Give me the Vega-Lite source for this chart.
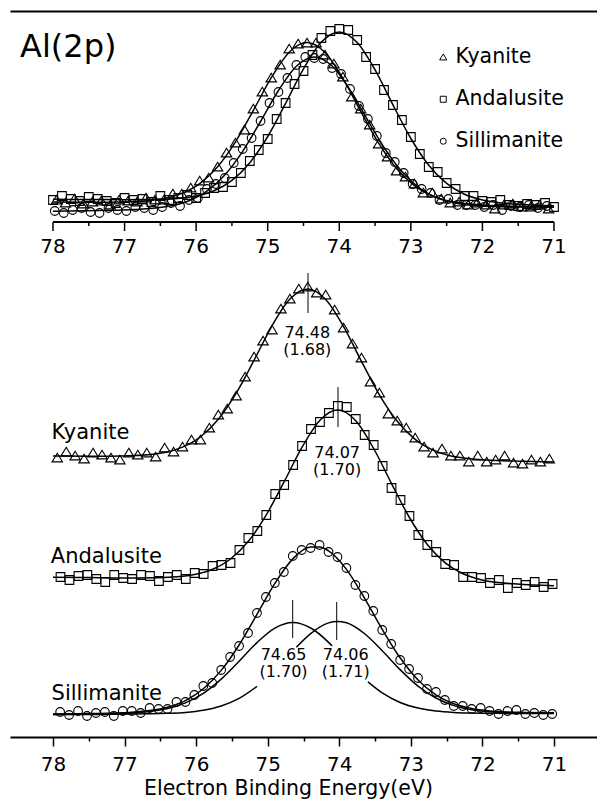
{
"$schema": "https://vega.github.io/schema/vega-lite/v6.json",
"width": 587, "height": 726,
"autosize": {"type": "none"},
"padding": {"left": 10, "top": 11, "right": 0, "bottom": 62},
"background": "white",
"config": {"view": {"stroke": null}, "font": "DejaVu Sans"},
"datasets": {
"pts": [
{"mineral":"Kyanite","E":77.95,"I":537},{"mineral":"Kyanite","E":77.825,"I":534},{"mineral":"Kyanite","E":77.7,"I":538},{"mineral":"Kyanite","E":77.575,"I":533},{"mineral":"Kyanite","E":77.45,"I":535},{"mineral":"Kyanite","E":77.325,"I":536},{"mineral":"Kyanite","E":77.2,"I":532},{"mineral":"Kyanite","E":77.075,"I":537},{"mineral":"Kyanite","E":76.95,"I":536},{"mineral":"Kyanite","E":76.825,"I":535},{"mineral":"Kyanite","E":76.7,"I":539},{"mineral":"Kyanite","E":76.575,"I":537},{"mineral":"Kyanite","E":76.45,"I":537},{"mineral":"Kyanite","E":76.325,"I":543},{"mineral":"Kyanite","E":76.2,"I":543},{"mineral":"Kyanite","E":76.075,"I":549},{"mineral":"Kyanite","E":75.95,"I":556},{"mineral":"Kyanite","E":75.825,"I":559},{"mineral":"Kyanite","E":75.7,"I":570},{"mineral":"Kyanite","E":75.575,"I":584},{"mineral":"Kyanite","E":75.45,"I":594},{"mineral":"Kyanite","E":75.325,"I":607},{"mineral":"Kyanite","E":75.2,"I":628},{"mineral":"Kyanite","E":75.075,"I":645},{"mineral":"Kyanite","E":74.95,"I":659},{"mineral":"Kyanite","E":74.825,"I":672},{"mineral":"Kyanite","E":74.7,"I":688},{"mineral":"Kyanite","E":74.575,"I":693},{"mineral":"Kyanite","E":74.45,"I":694},{"mineral":"Kyanite","E":74.325,"I":694},{"mineral":"Kyanite","E":74.2,"I":682},{"mineral":"Kyanite","E":74.075,"I":673},{"mineral":"Kyanite","E":73.95,"I":660},{"mineral":"Kyanite","E":73.825,"I":640},{"mineral":"Kyanite","E":73.7,"I":628},{"mineral":"Kyanite","E":73.575,"I":612},{"mineral":"Kyanite","E":73.45,"I":593},{"mineral":"Kyanite","E":73.325,"I":580},{"mineral":"Kyanite","E":73.2,"I":566},{"mineral":"Kyanite","E":73.075,"I":560},{"mineral":"Kyanite","E":72.95,"I":553},{"mineral":"Kyanite","E":72.825,"I":544},{"mineral":"Kyanite","E":72.7,"I":544},{"mineral":"Kyanite","E":72.575,"I":538},{"mineral":"Kyanite","E":72.45,"I":534},{"mineral":"Kyanite","E":72.325,"I":535},{"mineral":"Kyanite","E":72.2,"I":532},{"mineral":"Kyanite","E":72.075,"I":534},{"mineral":"Kyanite","E":71.95,"I":532},{"mineral":"Kyanite","E":71.825,"I":528},{"mineral":"Kyanite","E":71.7,"I":532},{"mineral":"Kyanite","E":71.575,"I":533},{"mineral":"Kyanite","E":71.45,"I":530},{"mineral":"Kyanite","E":71.325,"I":530},{"mineral":"Kyanite","E":71.2,"I":532},{"mineral":"Kyanite","E":71.075,"I":528},
{"mineral":"Andalusite","E":78,"I":537},{"mineral":"Andalusite","E":77.875,"I":541},{"mineral":"Andalusite","E":77.75,"I":538},{"mineral":"Andalusite","E":77.625,"I":536},{"mineral":"Andalusite","E":77.5,"I":540},{"mineral":"Andalusite","E":77.375,"I":538},{"mineral":"Andalusite","E":77.25,"I":536},{"mineral":"Andalusite","E":77.125,"I":534},{"mineral":"Andalusite","E":77,"I":539},{"mineral":"Andalusite","E":76.875,"I":537},{"mineral":"Andalusite","E":76.75,"I":538},{"mineral":"Andalusite","E":76.625,"I":535},{"mineral":"Andalusite","E":76.5,"I":541},{"mineral":"Andalusite","E":76.375,"I":537},{"mineral":"Andalusite","E":76.25,"I":539},{"mineral":"Andalusite","E":76.125,"I":542},{"mineral":"Andalusite","E":76,"I":539},{"mineral":"Andalusite","E":75.875,"I":544},{"mineral":"Andalusite","E":75.75,"I":549},{"mineral":"Andalusite","E":75.625,"I":550},{"mineral":"Andalusite","E":75.5,"I":555},{"mineral":"Andalusite","E":75.375,"I":564},{"mineral":"Andalusite","E":75.25,"I":576},{"mineral":"Andalusite","E":75.125,"I":587},{"mineral":"Andalusite","E":75,"I":598},{"mineral":"Andalusite","E":74.875,"I":618},{"mineral":"Andalusite","E":74.75,"I":634},{"mineral":"Andalusite","E":74.625,"I":653},{"mineral":"Andalusite","E":74.5,"I":666},{"mineral":"Andalusite","E":74.375,"I":682},{"mineral":"Andalusite","E":74.25,"I":699},{"mineral":"Andalusite","E":74.125,"I":706},{"mineral":"Andalusite","E":74,"I":708},{"mineral":"Andalusite","E":73.875,"I":707},{"mineral":"Andalusite","E":73.75,"I":697},{"mineral":"Andalusite","E":73.625,"I":680},{"mineral":"Andalusite","E":73.5,"I":668},{"mineral":"Andalusite","E":73.375,"I":647},{"mineral":"Andalusite","E":73.25,"I":632},{"mineral":"Andalusite","E":73.125,"I":617},{"mineral":"Andalusite","E":73,"I":600},{"mineral":"Andalusite","E":72.875,"I":583},{"mineral":"Andalusite","E":72.75,"I":570},{"mineral":"Andalusite","E":72.625,"I":565},{"mineral":"Andalusite","E":72.5,"I":554},{"mineral":"Andalusite","E":72.375,"I":548},{"mineral":"Andalusite","E":72.25,"I":541},{"mineral":"Andalusite","E":72.125,"I":541},{"mineral":"Andalusite","E":72,"I":536},{"mineral":"Andalusite","E":71.875,"I":535},{"mineral":"Andalusite","E":71.75,"I":537},{"mineral":"Andalusite","E":71.625,"I":532},{"mineral":"Andalusite","E":71.5,"I":531},{"mineral":"Andalusite","E":71.375,"I":533},{"mineral":"Andalusite","E":71.25,"I":532},{"mineral":"Andalusite","E":71.125,"I":534},{"mineral":"Andalusite","E":71,"I":530},
{"mineral":"Sillimanite","E":77.975,"I":526},{"mineral":"Sillimanite","E":77.85,"I":524},{"mineral":"Sillimanite","E":77.725,"I":527},{"mineral":"Sillimanite","E":77.6,"I":529},{"mineral":"Sillimanite","E":77.475,"I":525},{"mineral":"Sillimanite","E":77.35,"I":524},{"mineral":"Sillimanite","E":77.225,"I":529},{"mineral":"Sillimanite","E":77.1,"I":527},{"mineral":"Sillimanite","E":76.975,"I":526},{"mineral":"Sillimanite","E":76.85,"I":530},{"mineral":"Sillimanite","E":76.725,"I":529},{"mineral":"Sillimanite","E":76.6,"I":527},{"mineral":"Sillimanite","E":76.475,"I":530},{"mineral":"Sillimanite","E":76.35,"I":534},{"mineral":"Sillimanite","E":76.225,"I":531},{"mineral":"Sillimanite","E":76.1,"I":537},{"mineral":"Sillimanite","E":75.975,"I":539},{"mineral":"Sillimanite","E":75.85,"I":548},{"mineral":"Sillimanite","E":75.725,"I":553},{"mineral":"Sillimanite","E":75.6,"I":559},{"mineral":"Sillimanite","E":75.475,"I":574},{"mineral":"Sillimanite","E":75.35,"I":588},{"mineral":"Sillimanite","E":75.225,"I":599},{"mineral":"Sillimanite","E":75.1,"I":616},{"mineral":"Sillimanite","E":74.975,"I":634},{"mineral":"Sillimanite","E":74.85,"I":645},{"mineral":"Sillimanite","E":74.725,"I":659},{"mineral":"Sillimanite","E":74.6,"I":672},{"mineral":"Sillimanite","E":74.475,"I":680},{"mineral":"Sillimanite","E":74.35,"I":679},{"mineral":"Sillimanite","E":74.225,"I":678},{"mineral":"Sillimanite","E":74.1,"I":669},{"mineral":"Sillimanite","E":73.975,"I":663},{"mineral":"Sillimanite","E":73.85,"I":648},{"mineral":"Sillimanite","E":73.725,"I":631},{"mineral":"Sillimanite","E":73.6,"I":618},{"mineral":"Sillimanite","E":73.475,"I":601},{"mineral":"Sillimanite","E":73.35,"I":584},{"mineral":"Sillimanite","E":73.225,"I":575},{"mineral":"Sillimanite","E":73.1,"I":564},{"mineral":"Sillimanite","E":72.975,"I":553},{"mineral":"Sillimanite","E":72.85,"I":548},{"mineral":"Sillimanite","E":72.725,"I":544},{"mineral":"Sillimanite","E":72.6,"I":537},{"mineral":"Sillimanite","E":72.475,"I":538},{"mineral":"Sillimanite","E":72.35,"I":532},{"mineral":"Sillimanite","E":72.225,"I":532},{"mineral":"Sillimanite","E":72.1,"I":532},{"mineral":"Sillimanite","E":71.975,"I":530},{"mineral":"Sillimanite","E":71.85,"I":532},{"mineral":"Sillimanite","E":71.725,"I":527},{"mineral":"Sillimanite","E":71.6,"I":531},{"mineral":"Sillimanite","E":71.475,"I":530},{"mineral":"Sillimanite","E":71.35,"I":532},{"mineral":"Sillimanite","E":71.225,"I":529},{"mineral":"Sillimanite","E":71.1,"I":531},
{"mineral":"Kyanite","E":77.94,"I":279},{"mineral":"Kyanite","E":77.815,"I":285},{"mineral":"Kyanite","E":77.69,"I":281},{"mineral":"Kyanite","E":77.565,"I":278},{"mineral":"Kyanite","E":77.44,"I":284},{"mineral":"Kyanite","E":77.315,"I":282},{"mineral":"Kyanite","E":77.19,"I":279},{"mineral":"Kyanite","E":77.065,"I":277},{"mineral":"Kyanite","E":76.94,"I":284},{"mineral":"Kyanite","E":76.815,"I":282},{"mineral":"Kyanite","E":76.69,"I":284},{"mineral":"Kyanite","E":76.565,"I":280},{"mineral":"Kyanite","E":76.44,"I":289},{"mineral":"Kyanite","E":76.315,"I":285},{"mineral":"Kyanite","E":76.19,"I":290},{"mineral":"Kyanite","E":76.065,"I":297},{"mineral":"Kyanite","E":75.94,"I":297},{"mineral":"Kyanite","E":75.815,"I":309},{"mineral":"Kyanite","E":75.69,"I":322},{"mineral":"Kyanite","E":75.565,"I":328},{"mineral":"Kyanite","E":75.44,"I":341},{"mineral":"Kyanite","E":75.315,"I":360},{"mineral":"Kyanite","E":75.19,"I":380},{"mineral":"Kyanite","E":75.065,"I":396},{"mineral":"Kyanite","E":74.94,"I":407},{"mineral":"Kyanite","E":74.815,"I":428},{"mineral":"Kyanite","E":74.69,"I":438},{"mineral":"Kyanite","E":74.565,"I":448},{"mineral":"Kyanite","E":74.44,"I":450},{"mineral":"Kyanite","E":74.315,"I":444},{"mineral":"Kyanite","E":74.19,"I":442},{"mineral":"Kyanite","E":74.065,"I":427},{"mineral":"Kyanite","E":73.94,"I":409},{"mineral":"Kyanite","E":73.815,"I":393},{"mineral":"Kyanite","E":73.69,"I":379},{"mineral":"Kyanite","E":73.565,"I":355},{"mineral":"Kyanite","E":73.44,"I":344},{"mineral":"Kyanite","E":73.315,"I":323},{"mineral":"Kyanite","E":73.19,"I":316},{"mineral":"Kyanite","E":73.065,"I":309},{"mineral":"Kyanite","E":72.94,"I":299},{"mineral":"Kyanite","E":72.815,"I":290},{"mineral":"Kyanite","E":72.69,"I":284},{"mineral":"Kyanite","E":72.565,"I":288},{"mineral":"Kyanite","E":72.44,"I":281},{"mineral":"Kyanite","E":72.315,"I":281},{"mineral":"Kyanite","E":72.19,"I":275},{"mineral":"Kyanite","E":72.065,"I":281},{"mineral":"Kyanite","E":71.94,"I":275},{"mineral":"Kyanite","E":71.815,"I":277},{"mineral":"Kyanite","E":71.69,"I":281},{"mineral":"Kyanite","E":71.565,"I":274},{"mineral":"Kyanite","E":71.44,"I":273},{"mineral":"Kyanite","E":71.315,"I":277},{"mineral":"Kyanite","E":71.19,"I":275},{"mineral":"Kyanite","E":71.065,"I":278},
{"mineral":"Andalusite","E":77.895,"I":160},{"mineral":"Andalusite","E":77.77,"I":157},{"mineral":"Andalusite","E":77.645,"I":161},{"mineral":"Andalusite","E":77.52,"I":162},{"mineral":"Andalusite","E":77.395,"I":158},{"mineral":"Andalusite","E":77.27,"I":155},{"mineral":"Andalusite","E":77.145,"I":162},{"mineral":"Andalusite","E":77.02,"I":159},{"mineral":"Andalusite","E":76.895,"I":158},{"mineral":"Andalusite","E":76.77,"I":162},{"mineral":"Andalusite","E":76.645,"I":161},{"mineral":"Andalusite","E":76.52,"I":156},{"mineral":"Andalusite","E":76.395,"I":160},{"mineral":"Andalusite","E":76.27,"I":162},{"mineral":"Andalusite","E":76.145,"I":158},{"mineral":"Andalusite","E":76.02,"I":164},{"mineral":"Andalusite","E":75.895,"I":163},{"mineral":"Andalusite","E":75.77,"I":171},{"mineral":"Andalusite","E":75.645,"I":172},{"mineral":"Andalusite","E":75.52,"I":174},{"mineral":"Andalusite","E":75.395,"I":187},{"mineral":"Andalusite","E":75.27,"I":199},{"mineral":"Andalusite","E":75.145,"I":206},{"mineral":"Andalusite","E":75.02,"I":222},{"mineral":"Andalusite","E":74.895,"I":243},{"mineral":"Andalusite","E":74.77,"I":252},{"mineral":"Andalusite","E":74.645,"I":272},{"mineral":"Andalusite","E":74.52,"I":291},{"mineral":"Andalusite","E":74.395,"I":308},{"mineral":"Andalusite","E":74.27,"I":315},{"mineral":"Andalusite","E":74.145,"I":324},{"mineral":"Andalusite","E":74.02,"I":331},{"mineral":"Andalusite","E":73.895,"I":330},{"mineral":"Andalusite","E":73.77,"I":318},{"mineral":"Andalusite","E":73.645,"I":302},{"mineral":"Andalusite","E":73.52,"I":292},{"mineral":"Andalusite","E":73.395,"I":271},{"mineral":"Andalusite","E":73.27,"I":249},{"mineral":"Andalusite","E":73.145,"I":237},{"mineral":"Andalusite","E":73.02,"I":221},{"mineral":"Andalusite","E":72.895,"I":202},{"mineral":"Andalusite","E":72.77,"I":192},{"mineral":"Andalusite","E":72.645,"I":185},{"mineral":"Andalusite","E":72.52,"I":173},{"mineral":"Andalusite","E":72.395,"I":172},{"mineral":"Andalusite","E":72.27,"I":160},{"mineral":"Andalusite","E":72.145,"I":160},{"mineral":"Andalusite","E":72.02,"I":159},{"mineral":"Andalusite","E":71.895,"I":154},{"mineral":"Andalusite","E":71.77,"I":157},{"mineral":"Andalusite","E":71.645,"I":149},{"mineral":"Andalusite","E":71.52,"I":154},{"mineral":"Andalusite","E":71.395,"I":152},{"mineral":"Andalusite","E":71.27,"I":155},{"mineral":"Andalusite","E":71.145,"I":150},{"mineral":"Andalusite","E":71.02,"I":153},
{"mineral":"Sillimanite","E":77.9,"I":25},{"mineral":"Sillimanite","E":77.775,"I":22},{"mineral":"Sillimanite","E":77.65,"I":26},{"mineral":"Sillimanite","E":77.525,"I":21},{"mineral":"Sillimanite","E":77.4,"I":24},{"mineral":"Sillimanite","E":77.275,"I":25},{"mineral":"Sillimanite","E":77.15,"I":21},{"mineral":"Sillimanite","E":77.025,"I":26},{"mineral":"Sillimanite","E":76.9,"I":26},{"mineral":"Sillimanite","E":76.775,"I":24},{"mineral":"Sillimanite","E":76.65,"I":29},{"mineral":"Sillimanite","E":76.525,"I":28},{"mineral":"Sillimanite","E":76.4,"I":28},{"mineral":"Sillimanite","E":76.275,"I":35},{"mineral":"Sillimanite","E":76.15,"I":35},{"mineral":"Sillimanite","E":76.025,"I":42},{"mineral":"Sillimanite","E":75.9,"I":51},{"mineral":"Sillimanite","E":75.775,"I":54},{"mineral":"Sillimanite","E":75.65,"I":67},{"mineral":"Sillimanite","E":75.525,"I":80},{"mineral":"Sillimanite","E":75.4,"I":91},{"mineral":"Sillimanite","E":75.275,"I":104},{"mineral":"Sillimanite","E":75.15,"I":124},{"mineral":"Sillimanite","E":75.025,"I":140},{"mineral":"Sillimanite","E":74.9,"I":154},{"mineral":"Sillimanite","E":74.775,"I":165},{"mineral":"Sillimanite","E":74.65,"I":181},{"mineral":"Sillimanite","E":74.525,"I":187},{"mineral":"Sillimanite","E":74.4,"I":189},{"mineral":"Sillimanite","E":74.275,"I":192},{"mineral":"Sillimanite","E":74.15,"I":185},{"mineral":"Sillimanite","E":74.025,"I":180},{"mineral":"Sillimanite","E":73.9,"I":169},{"mineral":"Sillimanite","E":73.775,"I":152},{"mineral":"Sillimanite","E":73.65,"I":141},{"mineral":"Sillimanite","E":73.525,"I":126},{"mineral":"Sillimanite","E":73.4,"I":107},{"mineral":"Sillimanite","E":73.275,"I":93},{"mineral":"Sillimanite","E":73.15,"I":77},{"mineral":"Sillimanite","E":73.025,"I":68},{"mineral":"Sillimanite","E":72.9,"I":59},{"mineral":"Sillimanite","E":72.775,"I":48},{"mineral":"Sillimanite","E":72.65,"I":45},{"mineral":"Sillimanite","E":72.525,"I":37},{"mineral":"Sillimanite","E":72.4,"I":31},{"mineral":"Sillimanite","E":72.275,"I":31},{"mineral":"Sillimanite","E":72.15,"I":28},{"mineral":"Sillimanite","E":72.025,"I":29},{"mineral":"Sillimanite","E":71.9,"I":26},{"mineral":"Sillimanite","E":71.775,"I":23},{"mineral":"Sillimanite","E":71.65,"I":26},{"mineral":"Sillimanite","E":71.525,"I":27},{"mineral":"Sillimanite","E":71.4,"I":23},{"mineral":"Sillimanite","E":71.275,"I":24},{"mineral":"Sillimanite","E":71.15,"I":22},{"mineral":"Sillimanite","E":71.025,"I":23}
],
"fits": [
{"curve":"Kyanite top","E":78,"I":535},{"curve":"Kyanite top","E":77.45,"I":534.8},{"curve":"Kyanite top","E":76.95,"I":535.3},{"curve":"Kyanite top","E":76.45,"I":538.6},{"curve":"Kyanite top","E":76.2,"I":543.6},{"curve":"Kyanite top","E":75.95,"I":553.4},{"curve":"Kyanite top","E":75.7,"I":570.3},{"curve":"Kyanite top","E":75.45,"I":595.2},{"curve":"Kyanite top","E":75.2,"I":626.7},{"curve":"Kyanite top","E":74.95,"I":659.3},{"curve":"Kyanite top","E":74.7,"I":684.8},{"curve":"Kyanite top","E":74.45,"I":694.5},{"curve":"Kyanite top","E":74.2,"I":684.5},{"curve":"Kyanite top","E":73.95,"I":658.6},{"curve":"Kyanite top","E":73.7,"I":625.6},{"curve":"Kyanite top","E":73.45,"I":593.8},{"curve":"Kyanite top","E":73.2,"I":568.5},{"curve":"Kyanite top","E":72.95,"I":551.3},{"curve":"Kyanite top","E":72.7,"I":541.1},{"curve":"Kyanite top","E":72.45,"I":535.7},{"curve":"Kyanite top","E":71.95,"I":531.8},{"curve":"Kyanite top","E":71.45,"I":530.5},{"curve":"Kyanite top","E":71,"I":529.9},
{"curve":"Andalusite top","E":78,"I":537.7},{"curve":"Andalusite top","E":77.5,"I":537.5},{"curve":"Andalusite top","E":77,"I":537.3},{"curve":"Andalusite top","E":76.5,"I":537.7},{"curve":"Andalusite top","E":76.25,"I":538.6},{"curve":"Andalusite top","E":76,"I":541},{"curve":"Andalusite top","E":75.75,"I":546.2},{"curve":"Andalusite top","E":75.5,"I":556.6},{"curve":"Andalusite top","E":75.25,"I":574.3},{"curve":"Andalusite top","E":75,"I":600.5},{"curve":"Andalusite top","E":74.75,"I":633.6},{"curve":"Andalusite top","E":74.5,"I":668.1},{"curve":"Andalusite top","E":74.25,"I":694.9},{"curve":"Andalusite top","E":74,"I":705},{"curve":"Andalusite top","E":73.75,"I":694.4},{"curve":"Andalusite top","E":73.5,"I":667.1},{"curve":"Andalusite top","E":73.25,"I":632.1},{"curve":"Andalusite top","E":73,"I":598.5},{"curve":"Andalusite top","E":72.75,"I":571.8},{"curve":"Andalusite top","E":72.5,"I":553.6},{"curve":"Andalusite top","E":72.25,"I":542.7},{"curve":"Andalusite top","E":72,"I":537},{"curve":"Andalusite top","E":71.5,"I":532.7},{"curve":"Andalusite top","E":71,"I":531.3},
{"curve":"Sillimanite top","E":78,"I":525.8},{"curve":"Sillimanite top","E":77.35,"I":526.5},{"curve":"Sillimanite top","E":76.85,"I":527.6},{"curve":"Sillimanite top","E":76.35,"I":531.2},{"curve":"Sillimanite top","E":76.1,"I":536.3},{"curve":"Sillimanite top","E":75.85,"I":545.8},{"curve":"Sillimanite top","E":75.6,"I":562},{"curve":"Sillimanite top","E":75.35,"I":585.7},{"curve":"Sillimanite top","E":75.1,"I":615.5},{"curve":"Sillimanite top","E":74.85,"I":646.5},{"curve":"Sillimanite top","E":74.6,"I":670.7},{"curve":"Sillimanite top","E":74.35,"I":680.1},{"curve":"Sillimanite top","E":74.1,"I":671},{"curve":"Sillimanite top","E":73.85,"I":647.1},{"curve":"Sillimanite top","E":73.6,"I":616.4},{"curve":"Sillimanite top","E":73.35,"I":586.8},{"curve":"Sillimanite top","E":73.1,"I":563.4},{"curve":"Sillimanite top","E":72.85,"I":547.5},{"curve":"Sillimanite top","E":72.6,"I":538.3},{"curve":"Sillimanite top","E":72.35,"I":533.5},{"curve":"Sillimanite top","E":71.85,"I":530.4},{"curve":"Sillimanite top","E":71.35,"I":529.9},{"curve":"Sillimanite top","E":71,"I":529.9},
{"curve":"Kyanite","E":78,"I":280.9},{"curve":"Kyanite","E":77.44,"I":280.8},{"curve":"Kyanite","E":76.94,"I":281.3},{"curve":"Kyanite","E":76.44,"I":284.6},{"curve":"Kyanite","E":76.19,"I":289.9},{"curve":"Kyanite","E":75.94,"I":300.2},{"curve":"Kyanite","E":75.69,"I":317.8},{"curve":"Kyanite","E":75.44,"I":343.9},{"curve":"Kyanite","E":75.19,"I":376.9},{"curve":"Kyanite","E":74.94,"I":411.2},{"curve":"Kyanite","E":74.69,"I":437.9},{"curve":"Kyanite","E":74.44,"I":448},{"curve":"Kyanite","E":74.19,"I":437.4},{"curve":"Kyanite","E":73.94,"I":410.3},{"curve":"Kyanite","E":73.69,"I":375.6},{"curve":"Kyanite","E":73.44,"I":342.2},{"curve":"Kyanite","E":73.19,"I":315.7},{"curve":"Kyanite","E":72.94,"I":297.6},{"curve":"Kyanite","E":72.69,"I":286.9},{"curve":"Kyanite","E":72.44,"I":281.1},{"curve":"Kyanite","E":71.94,"I":277},{"curve":"Kyanite","E":71.44,"I":275.7},{"curve":"Kyanite","E":71,"I":275},
{"curve":"Andalusite","E":78,"I":159.7},{"curve":"Andalusite","E":77.52,"I":159.4},{"curve":"Andalusite","E":77.02,"I":159},{"curve":"Andalusite","E":76.52,"I":159.3},{"curve":"Andalusite","E":76.27,"I":160.2},{"curve":"Andalusite","E":76.02,"I":162.5},{"curve":"Andalusite","E":75.77,"I":167.7},{"curve":"Andalusite","E":75.52,"I":178},{"curve":"Andalusite","E":75.27,"I":195.7},{"curve":"Andalusite","E":75.02,"I":222.1},{"curve":"Andalusite","E":74.77,"I":255.3},{"curve":"Andalusite","E":74.52,"I":289.8},{"curve":"Andalusite","E":74.27,"I":316.8},{"curve":"Andalusite","E":74.02,"I":326.9},{"curve":"Andalusite","E":73.77,"I":316.2},{"curve":"Andalusite","E":73.52,"I":288.5},{"curve":"Andalusite","E":73.27,"I":253.4},{"curve":"Andalusite","E":73.02,"I":219.5},{"curve":"Andalusite","E":72.77,"I":192.5},{"curve":"Andalusite","E":72.52,"I":174.2},{"curve":"Andalusite","E":72.27,"I":163.2},{"curve":"Andalusite","E":72.02,"I":157.3},{"curve":"Andalusite","E":71.52,"I":152.9},{"curve":"Andalusite","E":71,"I":151.3},
{"curve":"Sillimanite","E":78,"I":23},{"curve":"Sillimanite","E":77.65,"I":23.2},{"curve":"Sillimanite","E":77.4,"I":23.5},{"curve":"Sillimanite","E":77.15,"I":23.9},{"curve":"Sillimanite","E":76.9,"I":24.7},{"curve":"Sillimanite","E":76.65,"I":26.4},{"curve":"Sillimanite","E":76.4,"I":29.8},{"curve":"Sillimanite","E":76.15,"I":36.4},{"curve":"Sillimanite","E":75.9,"I":48.2},{"curve":"Sillimanite","E":75.65,"I":66.6},{"curve":"Sillimanite","E":75.4,"I":92},{"curve":"Sillimanite","E":75.15,"I":122.6},{"curve":"Sillimanite","E":74.9,"I":153.6},{"curve":"Sillimanite","E":74.65,"I":178.1},{"curve":"Sillimanite","E":74.4,"I":189.9},{"curve":"Sillimanite","E":74.275,"I":189.9},{"curve":"Sillimanite","E":74.15,"I":186.1},{"curve":"Sillimanite","E":73.9,"I":167.6},{"curve":"Sillimanite","E":73.65,"I":139.1},{"curve":"Sillimanite","E":73.4,"I":107.7},{"curve":"Sillimanite","E":73.15,"I":79.2},{"curve":"Sillimanite","E":72.9,"I":57.1},{"curve":"Sillimanite","E":72.65,"I":42.2},{"curve":"Sillimanite","E":72.4,"I":33.2},{"curve":"Sillimanite","E":72.15,"I":28.5},{"curve":"Sillimanite","E":71.9,"I":26.1},{"curve":"Sillimanite","E":71.65,"I":25},{"curve":"Sillimanite","E":71.4,"I":24.6},{"curve":"Sillimanite","E":71,"I":24.2},
{"curve":"Sillimanite 74.65 a","E":78,"I":22.6},{"curve":"Sillimanite 74.65 a","E":77.65,"I":22.7},{"curve":"Sillimanite 74.65 a","E":77.4,"I":22.9},{"curve":"Sillimanite 74.65 a","E":77.15,"I":23.3},{"curve":"Sillimanite 74.65 a","E":76.9,"I":24},{"curve":"Sillimanite 74.65 a","E":76.65,"I":25.4},{"curve":"Sillimanite 74.65 a","E":76.4,"I":28.4},{"curve":"Sillimanite 74.65 a","E":76.15,"I":34.1},{"curve":"Sillimanite 74.65 a","E":75.9,"I":43.7},{"curve":"Sillimanite 74.65 a","E":75.65,"I":57.9},{"curve":"Sillimanite 74.65 a","E":75.4,"I":75.8},{"curve":"Sillimanite 74.65 a","E":75.15,"I":94.4},{"curve":"Sillimanite 74.65 a","E":74.9,"I":108.9},{"curve":"Sillimanite 74.65 a","E":74.65,"I":114.5},{"curve":"Sillimanite 74.65 a","E":74.4,"I":109},{"curve":"Sillimanite 74.65 a","E":74.15,"I":94.6},{"curve":"Sillimanite 74.65 a","E":74.1,"I":90.9},
{"curve":"Sillimanite 74.65 b","E":73.6,"I":55.1},{"curve":"Sillimanite 74.65 b","E":73.4,"I":44.1},{"curve":"Sillimanite 74.65 b","E":73.15,"I":34.5},{"curve":"Sillimanite 74.65 b","E":72.9,"I":28.9},{"curve":"Sillimanite 74.65 b","E":72.65,"I":26},{"curve":"Sillimanite 74.65 b","E":72.4,"I":24.6},{"curve":"Sillimanite 74.65 b","E":72.15,"I":24},{"curve":"Sillimanite 74.65 b","E":71.9,"I":23.7},{"curve":"Sillimanite 74.65 b","E":71.4,"I":23.5},{"curve":"Sillimanite 74.65 b","E":71,"I":23.5},
{"curve":"Sillimanite 74.06 a","E":78,"I":22.4},{"curve":"Sillimanite 74.06 a","E":77.4,"I":22.6},{"curve":"Sillimanite 74.06 a","E":76.9,"I":22.9},{"curve":"Sillimanite 74.06 a","E":76.65,"I":23.2},{"curve":"Sillimanite 74.06 a","E":76.4,"I":23.7},{"curve":"Sillimanite 74.06 a","E":76.15,"I":24.6},{"curve":"Sillimanite 74.06 a","E":75.9,"I":26.8},{"curve":"Sillimanite 74.06 a","E":75.65,"I":31},{"curve":"Sillimanite 74.06 a","E":75.4,"I":38.6},{"curve":"Sillimanite 74.06 a","E":75.15,"I":50.6},
{"curve":"Sillimanite 74.06 b","E":74.6,"I":89.7},{"curve":"Sillimanite 74.06 b","E":74.4,"I":103.4},{"curve":"Sillimanite 74.06 b","E":74.15,"I":114.1},{"curve":"Sillimanite 74.06 b","E":74.025,"I":115.5},{"curve":"Sillimanite 74.06 b","E":73.9,"I":114.2},{"curve":"Sillimanite 74.06 b","E":73.65,"I":103.5},{"curve":"Sillimanite 74.06 b","E":73.4,"I":86.3},{"curve":"Sillimanite 74.06 b","E":73.15,"I":67.4},{"curve":"Sillimanite 74.06 b","E":72.9,"I":50.9},{"curve":"Sillimanite 74.06 b","E":72.65,"I":39},{"curve":"Sillimanite 74.06 b","E":72.4,"I":31.4},{"curve":"Sillimanite 74.06 b","E":72.15,"I":27.3},{"curve":"Sillimanite 74.06 b","E":71.9,"I":25.3},{"curve":"Sillimanite 74.06 b","E":71.65,"I":24.3},{"curve":"Sillimanite 74.06 b","E":71.4,"I":24},{"curve":"Sillimanite 74.06 b","E":71,"I":23.7}
],
"ticks": [
{"E":78,"kind":"major"},{"E":77.5,"kind":"minor"},{"E":77,"kind":"major"},{"E":76.5,"kind":"minor"},{"E":76,"kind":"major"},{"E":75.5,"kind":"minor"},{"E":75,"kind":"major"},{"E":74.5,"kind":"minor"},{"E":74,"kind":"major"},{"E":73.5,"kind":"minor"},{"E":73,"kind":"major"},{"E":72.5,"kind":"minor"},{"E":72,"kind":"major"},{"E":71.5,"kind":"minor"},{"E":71,"kind":"major"}
],
"peaks": [
{"E":74.437,"lo":424,"hi":464},{"E":74.018,"lo":310,"hi":350},{"E":74.651,"lo":99,"hi":137},{"E":74.036,"lo":97,"hi":135}
],
"peaklabels": [
{"E":74.447,"I":399,"text":"74.48\n(1.68)"},{"E":74.03,"I":279,"text":"74.07\n(1.70)"},{"E":74.779,"I":77,"text":"74.65\n(1.70)"},{"E":73.91,"I":77,"text":"74.06\n(1.71)"}
],
"names": [
{"E":78.02,"I":298,"text":"Kyanite"},{"E":78.03,"I":174,"text":"Andalusite"},{"E":78.02,"I":37,"text":"Sillimanite"}
],
"heading": [{"E":78.46,"I":680,"text":"Al(2p)"}]
},
"resolve": {"axis": {"x": "independent"}},
"layer": [
{"data": {"name": "fits"},
 "mark": {"type": "line", "color": "black", "strokeWidth": 1.5, "interpolate": "monotone"},
 "encoding": {
  "x": {"field": "E", "type": "quantitative", "scale": {"domain": [70.3992, 78.6008], "reverse": true, "nice": false, "zero": false},
        "axis": {"orient": "top", "domain": true, "domainColor": "black", "domainWidth": 2, "ticks": false, "labels": false, "grid": false, "title": null}},
  "y": {"field": "I", "type": "quantitative", "scale": {"domain": [0, 726], "nice": false, "zero": false}, "axis": null},
  "detail": {"field": "curve", "type": "nominal"}
 }},
{"data": {"name": "pts"},
 "mark": {"type": "point", "filled": false, "color": "black", "strokeWidth": 1.1, "size": 75, "opacity": 1},
 "encoding": {
  "x": {"field": "E", "type": "quantitative", "scale": {"domain": [70.3992, 78.6008], "reverse": true, "nice": false, "zero": false},
        "axis": {"orient": "bottom", "values": [71, 71.5, 72, 72.5, 73, 73.5, 74, 74.5, 75, 75.5, 76, 76.5, 77, 77.5, 78],
                 "labelExpr": "datum.value % 1 === 0 ? format(datum.value, 'd') : ''",
                 "tickSize": {"condition": {"test": "datum.value % 1 !== 0", "value": 4}, "value": 9},
                 "tickWidth": 1.5, "tickColor": "black", "domainColor": "black", "domainWidth": 2, "grid": false,
                 "labelFontSize": 20, "labelFont": "DejaVu Sans", "labelColor": "black", "labelBaseline": "alphabetic", "labelPadding": 24,
                 "labelFlush": false, "labelOverlap": false,
                 "title": "Electron Binding Energy(eV)", "titleFontSize": 20.5, "titleFont": "DejaVu Sans", "titleFontWeight": "normal", "titleColor": "black",
                 "titleX": 278, "titleY": 57, "titleBaseline": "alphabetic", "titleAlign": "center"}},
  "y": {"field": "I", "type": "quantitative", "scale": {"domain": [0, 726], "nice": false, "zero": false},
        "axis": {"orient": "left", "domain": true, "domainColor": "black", "domainWidth": 2, "ticks": false, "labels": false, "grid": false, "title": null}},
  "shape": {"field": "mineral", "type": "nominal",
            "scale": {"domain": ["Kyanite", "Andalusite", "Sillimanite"], "range": ["M-1.2,0.9L0,-1.1L1.2,0.9Z", "square", "circle"]},
            "legend": {"title": null, "orient": "none", "legendX": 423, "legendY": 36, "padding": 0,
                       "symbolSize": 36, "symbolStrokeWidth": 1, "symbolStrokeColor": "black",
                       "labelFontSize": 20.5, "labelFont": "DejaVu Sans", "labelColor": "black",
                       "rowPadding": 21, "labelOffset": 2}}
 }},
{"data": {"values": [{}]},
 "mark": {"type": "rule", "color": "black", "strokeWidth": 2},
 "encoding": {
  "x": {"datum": 78, "type": "quantitative", "scale": {"domain": [70.3992, 78.6008], "reverse": true, "nice": false, "zero": false}, "axis": null},
  "x2": {"datum": 71},
  "y": {"datum": 515, "type": "quantitative", "scale": {"domain": [0, 726], "nice": false, "zero": false}, "axis": null}
 }},
{"data": {"name": "ticks"},
 "transform": [{"filter": "datum.kind === 'major'"}],
 "mark": {"type": "rule", "color": "black", "strokeWidth": 1.5},
 "encoding": {
  "x": {"field": "E", "type": "quantitative", "scale": {"domain": [70.3992, 78.6008], "reverse": true, "nice": false, "zero": false}, "axis": null},
  "y": {"datum": 515, "type": "quantitative", "scale": {"domain": [0, 726], "nice": false, "zero": false}, "axis": null},
  "y2": {"datum": 506}
 }},
{"data": {"name": "ticks"},
 "transform": [{"filter": "datum.kind === 'minor'"}],
 "mark": {"type": "rule", "color": "black", "strokeWidth": 1.5},
 "encoding": {
  "x": {"field": "E", "type": "quantitative", "scale": {"domain": [70.3992, 78.6008], "reverse": true, "nice": false, "zero": false}, "axis": null},
  "y": {"datum": 515, "type": "quantitative", "scale": {"domain": [0, 726], "nice": false, "zero": false}, "axis": null},
  "y2": {"datum": 511}
 }},
{"data": {"name": "ticks"},
 "transform": [{"filter": "datum.kind === 'major'"}],
 "mark": {"type": "text", "font": "DejaVu Sans", "fontSize": 20, "align": "center", "baseline": "alphabetic", "color": "black"},
 "encoding": {
  "x": {"field": "E", "type": "quantitative", "scale": {"domain": [70.3992, 78.6008], "reverse": true, "nice": false, "zero": false}, "axis": null},
  "y": {"datum": 484, "type": "quantitative", "scale": {"domain": [0, 726], "nice": false, "zero": false}, "axis": null},
  "text": {"field": "E", "type": "quantitative", "format": "d"}
 }},
{"data": {"name": "peaks"},
 "mark": {"type": "rule", "color": "black", "strokeWidth": 1},
 "encoding": {
  "x": {"field": "E", "type": "quantitative", "scale": {"domain": [70.3992, 78.6008], "reverse": true, "nice": false, "zero": false}, "axis": null},
  "y": {"field": "hi", "type": "quantitative", "scale": {"domain": [0, 726], "nice": false, "zero": false}, "axis": null},
  "y2": {"field": "lo"}
 }},
{"data": {"name": "peaklabels"},
 "mark": {"type": "text", "font": "DejaVu Sans", "fontSize": 16, "align": "center", "baseline": "alphabetic", "color": "black", "lineBreak": "\n", "lineHeight": 16.5},
 "encoding": {
  "x": {"field": "E", "type": "quantitative", "scale": {"domain": [70.3992, 78.6008], "reverse": true, "nice": false, "zero": false}, "axis": null},
  "y": {"field": "I", "type": "quantitative", "scale": {"domain": [0, 726], "nice": false, "zero": false}, "axis": null},
  "text": {"field": "text", "type": "nominal"}
 }},
{"data": {"name": "names"},
 "mark": {"type": "text", "font": "DejaVu Sans", "fontSize": 21, "align": "left", "baseline": "alphabetic", "color": "black"},
 "encoding": {
  "x": {"field": "E", "type": "quantitative", "scale": {"domain": [70.3992, 78.6008], "reverse": true, "nice": false, "zero": false}, "axis": null},
  "y": {"field": "I", "type": "quantitative", "scale": {"domain": [0, 726], "nice": false, "zero": false}, "axis": null},
  "text": {"field": "text", "type": "nominal"}
 }},
{"data": {"name": "heading"},
 "mark": {"type": "text", "font": "DejaVu Sans", "fontSize": 32, "align": "left", "baseline": "alphabetic", "color": "black"},
 "encoding": {
  "x": {"field": "E", "type": "quantitative", "scale": {"domain": [70.3992, 78.6008], "reverse": true, "nice": false, "zero": false}, "axis": null},
  "y": {"field": "I", "type": "quantitative", "scale": {"domain": [0, 726], "nice": false, "zero": false}, "axis": null},
  "text": {"field": "text", "type": "nominal"}
 }}
]
}
